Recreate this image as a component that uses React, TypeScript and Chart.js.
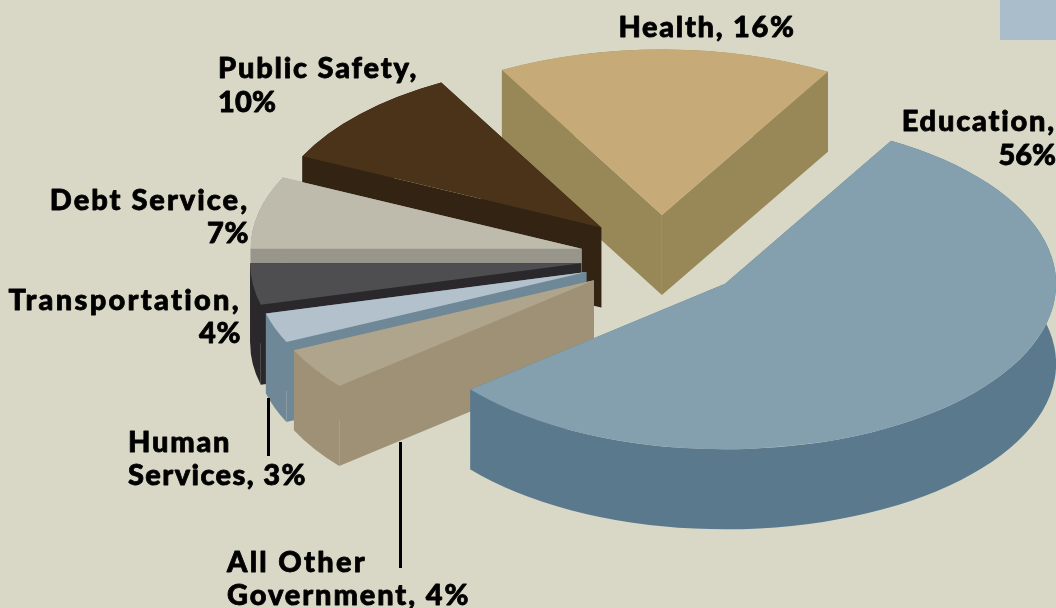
import React, { useEffect, useRef } from "react";
import { Chart, registerables } from "chart.js";

Chart.register(...registerables);

const categories = ["Education", "All Other Government", "Human Services", "Transportation", "Debt Service", "Public Safety", "Health"];
const shares = [55.61, 4.08, 2.92, 4.03, 7.08, 9.89, 16.39];
const topColors = ["#84A0AF", "#AFA48C", "#B2C1CB", "#4E4E50", "#BEBBAD", "#4A3319", "#C6AB78"];
const wallColors = ["#5A798D", "#9E9176", "#6F8898", "#2A282A", "#98958A", "#332312", "#988757"];
const explode = [80, 83, 82.5, 83.5, 84.4, 89, 86];
const nudgeX = [0, 0, 0, 0, 0, 2, -3];
const wallOrder = [6, 5, 4, 3, 2, 1, 0];

const BG = "#D9D8C6";
const CX = 664;
const CY = 258;
const SQUASH = 0.5;
const RADIUS = 331;
const DEPTH = 80;
const FONT = "900 29px Lato";

const labelLines: [string, number, number, CanvasTextAlign, number][] = [
  ["Health, 16%", 707, 37, "center", 1.7],
  ["Public Safety,", 218, 78, "left", 1.8],
  ["10%", 218, 112, "left", 0.2],
  ["Education,", 1056, 131, "right", 1.8],
  ["56%", 1056, 165, "right", 0],
  ["Debt Service,", 249, 210, "right", 2.0],
  ["7%", 249, 243, "right", 0.6],
  ["Transportation,", 241, 310, "right", 2.3],
  ["4%", 241, 343, "right", 0.6],
  ["Human", 128, 452, "left", 1.8],
  ["Services, 3%", 128, 485, "left", 1.4],
  ["All Other", 227, 572, "left", 2.3],
  ["Government, 4%", 227, 605, "left", 1.9],
];

const pie3d = {
  id: "pie3d",
  afterDatasetsUpdate(chart: any) {
    // Pull every slice out along its mid-angle while keeping one shared radius.
    chart.getDatasetMeta(0).data.forEach((arc: any, i: number) => {
      const mid = (arc.startAngle + arc.endAngle) / 2;
      arc.x += Math.cos(mid) * explode[i] + nudgeX[i];
      arc.y += Math.sin(mid) * explode[i];
    });
  },
  beforeDatasetsDraw(chart: any) {
    const { ctx, chartArea } = chart;
    const mx = (chartArea.left + chartArea.right) / 2;
    const my = (chartArea.top + chartArea.bottom) / 2;
    ctx.save();
    ctx.fillStyle = "#AABDCB";
    ctx.fillRect(1000, 0, 56, 40);
    ctx.restore();
    ctx.save();
    ctx.translate(CX, CY);
    ctx.scale(1, SQUASH);
    ctx.translate(-mx, -my);
    const d = DEPTH / SQUASH;
    const arcs = chart.getDatasetMeta(0).data;
    wallOrder.forEach((i) => {
      const a = arcs[i];
      const { x, y } = a;
      ctx.fillStyle = wallColors[i];
      [a.startAngle, a.endAngle].forEach((ang: number) => {
        const ex = x + Math.cos(ang) * RADIUS;
        const ey = y + Math.sin(ang) * RADIUS;
        ctx.beginPath();
        ctx.moveTo(x, y);
        ctx.lineTo(ex, ey);
        ctx.lineTo(ex, ey + d);
        ctx.lineTo(x, y + d);
        ctx.closePath();
        ctx.fill();
      });
      ctx.beginPath();
      ctx.arc(x, y, RADIUS, a.startAngle, a.endAngle);
      ctx.arc(x, y + d, RADIUS, a.endAngle, a.startAngle, true);
      ctx.closePath();
      ctx.fill();
    });
  },
  afterDatasetsDraw(chart: any) {
    const { ctx } = chart;
    ctx.restore();
    ctx.save();
    ctx.strokeStyle = "#000";
    ctx.lineWidth = 3;
    ctx.beginPath();
    ctx.moveTo(268.5, 398);
    ctx.lineTo(268.5, 456);
    ctx.moveTo(400.5, 442);
    ctx.lineTo(400.5, 568);
    ctx.stroke();
    ctx.fillStyle = "#000";
    ctx.strokeStyle = "#000";
    ctx.lineWidth = 0.8;
    ctx.lineJoin = "round";
    ctx.font = FONT;
    ctx.textBaseline = "alphabetic";
    labelLines.forEach(([text, x, y, align, spacing]) => {
      (ctx as any).letterSpacing = spacing + "px";
      ctx.textAlign = align;
      ctx.strokeText(text, x, y);
      ctx.fillText(text, x, y);
    });
    ctx.restore();
  },
};

export default function App() {
  const ref = useRef<HTMLCanvasElement>(null);
  useEffect(() => {
    const chart = new Chart(ref.current!, {
      type: "pie",
      data: {
        labels: categories,
        datasets: [
          {
            data: shares,
            backgroundColor: topColors,
            borderWidth: 0,
            clip: false,
          } as any,
        ],
      },
      options: {
        responsive: false,
        animation: false,
        rotation: 30.1,
        radius: RADIUS,
        plugins: { legend: { display: false }, tooltip: { enabled: false } },
      } as any,
      plugins: [pie3d],
    });
    return () => chart.destroy();
  }, []);
  return (
    <div style={{ position: "fixed", left: 0, top: 0, width: 1056, height: 608, background: BG, overflow: "hidden" }}>
      <canvas ref={ref} width={1056} height={608} style={{ display: "block" }} />
    </div>
  );
}
